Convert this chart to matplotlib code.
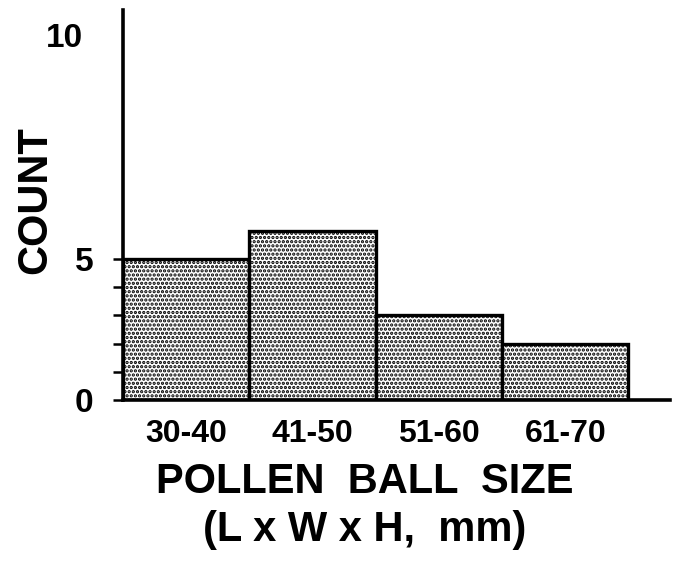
import matplotlib
matplotlib.use("Agg")
import matplotlib.pyplot as plt
from matplotlib.transforms import blended_transform_factory

# pollen ball size classes and counts
size_classes = ['30-40', '41-50', '51-60', '61-70']
counts = [5, 6, 3, 2]

plt.rcParams['font.family'] = ['Liberation Sans', 'DejaVu Sans']
plt.rcParams['font.weight'] = 'bold'
plt.rcParams['hatch.linewidth'] = 1.6
plt.rcParams['hatch.color'] = 'black'

fig = plt.figure(figsize=(6.73, 5.65), dpi=100)
ax = fig.add_axes([0.1828, 0.292, 0.813, 0.690])

pos = [i + 0.5 for i in range(len(counts))]
ax.bar(pos, counts, width=1.0, facecolor='white', edgecolor='black',
       linewidth=2.4, hatch='....', zorder=2)

ax.set_xlim(0, 4.33)
ax.set_ylim(0, 13.83)

for side in ['top', 'right']:
    ax.spines[side].set_visible(False)
for side in ['left', 'bottom']:
    ax.spines[side].set_linewidth(2.6)

ax.set_xticks(pos)
ax.set_xticklabels(size_classes, fontsize=23, fontweight='bold')
ax.tick_params(axis='x', length=0, pad=14)

ax.set_yticks([0, 5])
ax.set_yticklabels(['0', '5'], fontsize=24, fontweight='bold')
ax.set_yticks([1, 2, 3, 4], minor=True)
ax.tick_params(axis='y', which='both', direction='out', length=7.5, width=1.8, pad=14)

# the "10" sits near the top of the hand-drawn axis, without a tick
trans = blended_transform_factory(fig.transFigure, ax.transData)
ax.text(83 / 673, 12.84, '10', transform=trans, ha='right', va='center',
        fontsize=24, fontweight='bold')

fig.text(35 / 673, 1 - 200 / 565, 'COUNT', rotation=90, ha='center', va='center',
         fontsize=30, fontweight='bold')
fig.text(365 / 673, 1 - 482 / 565, 'POLLEN  BALL  SIZE', ha='center', va='center',
         fontsize=30, fontweight='bold')
fig.text(365 / 673, 1 - 530 / 565, '(L x W x H,  mm)', ha='center', va='center',
         fontsize=30, fontweight='bold')

fig.savefig('out.png', dpi=100)
plt.close(fig)
